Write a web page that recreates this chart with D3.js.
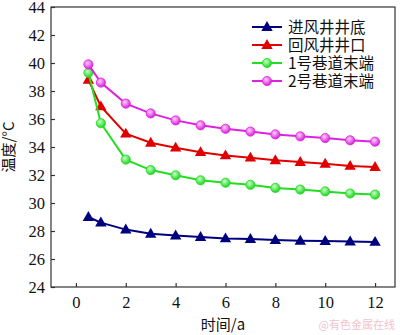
<!DOCTYPE html>
<html><head><meta charset="utf-8">
<script src="https://cdn.jsdelivr.net/npm/d3@7"></script>
<style>body{margin:0;background:#fff}svg{display:block}</style>
</head><body>
<script>
const years = [0.5, 1, 2, 3, 4, 5, 6, 7, 8, 9, 10, 11, 12];
const seriesNames = ["进风井井底", "回风井井口", "1号巷道末端", "2号巷道末端"];
const inletBottom = [29.0, 28.6, 28.1, 27.8, 27.67, 27.57, 27.47, 27.42, 27.35, 27.3, 27.28, 27.25, 27.22];
const returnTop = [38.8, 36.9, 34.95, 34.3, 33.95, 33.63, 33.4, 33.24, 33.05, 32.93, 32.8, 32.65, 32.57];
const tunnel1End = [39.3, 35.7, 33.1, 32.35, 31.98, 31.62, 31.45, 31.3, 31.08, 30.96, 30.83, 30.68, 30.6];
const tunnel2End = [39.9, 38.6, 37.1, 36.4, 35.9, 35.55, 35.3, 35.1, 34.9, 34.76, 34.64, 34.48, 34.38];
const xTicks = [0, 2, 4, 6, 8, 10, 12];
const yTicks = [24, 26, 28, 30, 32, 34, 36, 38, 40, 42, 44];

const W = 400, H = 335;
const m = {l: 51, r: 5, t: 7, b: 48};
const svg = d3.select("body").append("svg").attr("width", W).attr("height", H);
const x = d3.scaleLinear().domain([-1, 12.8]).range([m.l, W - m.r]);
const y = d3.scaleLinear().domain([24, 44]).range([H - m.b, m.t]);

const defs = svg.append("defs");
function sphere(id, base, light) {
  const g = defs.append("radialGradient").attr("id", id).attr("cx", "40%").attr("cy", "35%").attr("r", "65%");
  g.append("stop").attr("offset", "0%").attr("stop-color", light);
  g.append("stop").attr("offset", "100%").attr("stop-color", base);
}
sphere("gG", "#19d419", "#c8ffc8");
sphere("gM", "#d81cd8", "#ffd0ff");

const series = [
  {name: seriesNames[0], vals: inletBottom, color: "#00007f", marker: "tri"},
  {name: seriesNames[1], vals: returnTop, color: "#e00000", marker: "tri"},
  {name: seriesNames[2], vals: tunnel1End, color: "#22dd22", marker: "circ", fill: "url(#gG)"},
  {name: seriesNames[3], vals: tunnel2End, color: "#dd22dd", marker: "circ", fill: "url(#gM)"}
];

const frame = svg.append("g");
frame.append("rect").attr("x", m.l).attr("y", m.t).attr("width", W - m.r - m.l).attr("height", H - m.b - m.t)
  .attr("fill", "none").attr("stroke", "#333").attr("stroke-width", 1.2);

const xa = svg.append("g").attr("transform", `translate(0,${H - m.b})`)
  .call(d3.axisBottom(x).tickValues(xTicks).tickSizeInner(-4).tickSizeOuter(0).tickPadding(9));
const ya = svg.append("g").attr("transform", `translate(${m.l},0)`)
  .call(d3.axisLeft(y).tickValues(yTicks).tickSizeInner(-4).tickSizeOuter(0).tickPadding(6));
[xa, ya].forEach(a => {
  a.select(".domain").remove();
  a.selectAll(".tick line").attr("stroke", "#333").attr("stroke-width", 1.2);
  a.selectAll("text").attr("font-family", "'Liberation Serif', serif").attr("font-size", 16.5).attr("fill", "#111");
});

const line = d3.line().x((d, i) => x(years[i])).y(d => y(d));
function drawMarker(g, type, cx, cy, s) {
  if (type === "tri") {
    const r = 6;
    g.append("path").attr("d", `M${cx},${cy - r}L${cx + r * 0.95},${cy + r * 0.65}L${cx - r * 0.95},${cy + r * 0.65}Z`)
      .attr("fill", s.color);
  } else {
    g.append("circle").attr("cx", cx).attr("cy", cy).attr("r", 4.6).attr("fill", s.fill)
      .attr("stroke", s.color).attr("stroke-width", 0.8);
  }
}
series.forEach(s => {
  const g = svg.append("g");
  g.append("path").datum(s.vals).attr("d", line).attr("fill", "none").attr("stroke", s.color).attr("stroke-width", 2);
  s.vals.forEach((v, i) => drawMarker(g, s.marker, x(years[i]), y(v), s));
});

// Legend
const lg = svg.append("g");
series.forEach((s, i) => {
  const ly = 27 + i * 18;
  lg.append("line").attr("x1", 252).attr("x2", 282).attr("y1", ly).attr("y2", ly).attr("stroke", s.color).attr("stroke-width", 2);
  drawMarker(lg, s.marker, 267, ly, s);
  lg.append("text").attr("x", 288).attr("y", ly + 5.5).text(s.name)
    .attr("font-family", "'Noto Sans CJK SC', 'Liberation Serif'").attr("font-size", 15.5).attr("fill", "#111");
});

svg.append("text").attr("x", (m.l + W - m.r) / 2).attr("y", 330).attr("text-anchor", "middle")
  .attr("font-family", "'Noto Sans CJK SC'").attr("font-size", 15).attr("fill", "#111").text("时间/a");
svg.append("text").attr("transform", `translate(14,${(m.t + H - m.b) / 2}) rotate(-90)`).attr("text-anchor", "middle")
  .attr("font-family", "'Noto Sans CJK SC'").attr("font-size", 15).attr("fill", "#111").text("温度/°C");
svg.append("text").attr("x", 395).attr("y", 329).attr("text-anchor", "end")
  .attr("font-family", "'Noto Sans CJK SC'").attr("font-size", 11).attr("fill", "#f0c4cc").text("@有色金属在线");
</script>
</body></html>
